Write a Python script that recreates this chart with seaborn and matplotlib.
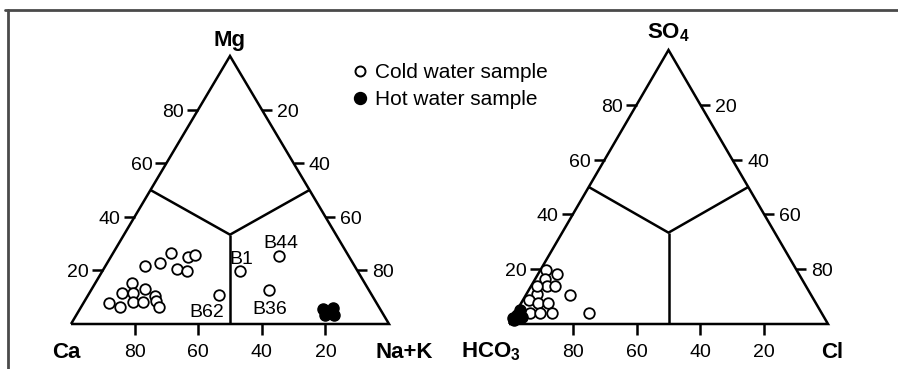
import numpy as np
import pandas as pd
import matplotlib
matplotlib.use("Agg")
import matplotlib.pyplot as plt
import seaborn as sns
from matplotlib.lines import Line2D

# ---------------- data (percent) ----------------
# Cation triangle: Mg (top), Na+K (right), Ca (left)
cold_mg = [8.0, 6.5, 11.4, 15.4, 11.7, 8.1, 8.1, 13.0, 10.5, 8.7, 6.3,
           21.5, 22.9, 26.5, 20.5, 19.9, 25.1, 25.7]
cold_nak = [7.9, 12.1, 10.2, 11.4, 13.7, 15.5, 18.6, 16.8, 21.1, 22.5, 24.4,
            12.6, 16.5, 18.1, 23.0, 26.5, 24.2, 26.3]
named_ids = ["B62", "B1", "B44", "B36"]
named_mg = [10.9, 19.6, 25.5, 12.7]
named_nak = [41.1, 43.3, 52.7, 56.0]
hot_mg = [5.5, 5.8, 3.3, 3.3, 4.4]
hot_nak = [76.5, 79.5, 78.3, 81.1, 78.9]

# Anion triangle: SO4 (top), Cl (right), HCO3 (left)
cold_so4 = [19.6, 18.1, 16.6, 13.8, 13.8, 11.1, 10.5, 8.7, 7.7, 7.7,
            3.9, 3.9, 3.9, 3.9, 13.8]
cold_cl = [1.7, 5.9, 3.0, 4.9, 7.5, 3.3, 13.8, 1.8, 5.3, 8.4,
           4.7, 7.8, 11.5, 23.0, 1.9]
hot_so4 = [2.1, 5.1, 2.6, 3.3, 1.4]
hot_cl = [0.3, 0.9, 2.7, 0.8, 0.9]

tick_values = [20, 40, 60, 80]
legend_labels = ["Cold water sample", "Hot water sample"]

# ---------------- style ----------------
sns.set_theme(style="white")
plt.rcParams["font.family"] = ["Liberation Sans", "DejaVu Sans"]
plt.rcParams["mathtext.fontset"] = "custom"
plt.rcParams["mathtext.rm"] = "Liberation Sans"
plt.rcParams["mathtext.bf"] = "Liberation Sans:bold"
plt.rcParams["text.color"] = "black"

W, H = 898, 369
fig = plt.figure(figsize=(W / 100, H / 100), dpi=100)
fig.patch.set_facecolor("white")
S3 = np.sqrt(3) / 2
FS = 14
FS_CORNER = 16
LW = 1.8

BASE_PX = 324


def tern(top, right):
    top = np.asarray(top, float)
    right = np.asarray(right, float)
    return (right + top / 2) / 100.0, top / 100.0 * S3


def make_ax(x0, x1, apex_px):
    ax = fig.add_axes([x0 / W, (H - BASE_PX) / H, (x1 - x0) / W, (BASE_PX - apex_px) / H])
    ax.set_xlim(0, 1)
    ax.set_ylim(0, S3)
    ax.axis("off")
    pxx = 1.0 / (x1 - x0)              # data units per pixel (x)
    pxy = S3 / (BASE_PX - apex_px)     # data units per pixel (y)
    return ax, pxx, pxy


def draw_frame(ax, pxx, pxy, top_lab, left_lab, right_lab, left_dx, right_dx, top_dy):
    kw = dict(color="black", lw=LW, clip_on=False, solid_capstyle="butt")
    ax.plot([0, 1, 0.5, 0], [0, 0, S3, 0], solid_joinstyle="miter", **kw)
    ax.plot([0.25, 0.5, 0.75], [S3 / 2, S3 / 3, S3 / 2], **kw)
    ax.plot([0.5, 0.5], [S3 / 3, 0], **kw)
    for v in tick_values:
        # bottom (left-corner component)
        xb = (100 - v) / 100.0
        ax.plot([xb, xb], [0, -11 * pxy], **kw)
        ax.text(xb, -33 * pxy, str(v), ha="center", va="baseline", fontsize=FS)
        # left edge (top component)
        xl, yl = v / 200.0, v / 100.0 * S3
        ax.plot([xl, xl - 11 * pxx], [yl, yl], **kw)
        ax.text(xl - 14 * pxx, yl - 7 * pxy, str(v), ha="right", va="baseline", fontsize=FS)
        # right edge (right-corner component)
        top = 100 - v
        xr, yr = 1 - top / 200.0, top / 100.0 * S3
        ax.plot([xr, xr + 10 * pxx], [yr, yr], **kw)
        ax.text(xr + 15 * pxx, yr - 7 * pxy, str(v), ha="left", va="baseline", fontsize=FS)
    ax.text(0.5, S3 + top_dy * pxy, top_lab, ha="center", va="baseline",
            fontsize=FS_CORNER, fontweight="bold")
    ax.text(0 + left_dx * pxx, -33.5 * pxy, left_lab, ha="center", va="baseline",
            fontsize=FS_CORNER, fontweight="bold")
    ax.text(1 + right_dx * pxx, -33.5 * pxy, right_lab, ha="center", va="baseline",
            fontsize=FS_CORNER, fontweight="bold")


def scatter(ax, top, right, filled):
    x, y = tern(top, right)
    df = pd.DataFrame({"x": x, "y": y})
    if filled:
        sns.scatterplot(data=df, x="x", y="y", ax=ax, s=64, color="black",
                        edgecolor="black", linewidth=1.0, clip_on=False, legend=False, zorder=4)
    else:
        sns.scatterplot(data=df, x="x", y="y", ax=ax, s=58, facecolor="white",
                        edgecolor="black", linewidth=1.3, clip_on=False, legend=False, zorder=3)
    ax.set_xlim(0, 1)
    ax.set_ylim(0, S3)
    ax.axis("off")


# ---------------- left: cations ----------------
axL, pxL, pyL = make_ax(71, 389, 56)
draw_frame(axL, pxL, pyL, "Mg", "Ca", "Na+K", -5, 15, 10)
scatter(axL, cold_mg + named_mg, cold_nak + named_nak, False)
scatter(axL, hot_mg, hot_nak, True)
label_off = {"B62": (-12, -22.7), "B1": (1, 7), "B44": (1.5, 7.3), "B36": (0, -23.7)}
for name, m, n in zip(named_ids, named_mg, named_nak):
    x, y = tern(m, n)
    dx, dy = label_off[name]
    axL.text(x + dx * pxL, y + dy * pyL, name, ha="center", va="baseline", fontsize=FS)

# ---------------- right: anions ----------------
axR, pxR, pyR = make_ax(509, 828, 50)
draw_frame(axR, pxR, pyR, r"$\mathbf{SO_4}$", r"$\mathbf{HCO_3}$", "Cl", -18, 4, 12)
scatter(axR, cold_so4, cold_cl, False)
scatter(axR, hot_so4, hot_cl, True)

# ---------------- legend ----------------
handles = [
    Line2D([], [], ls="", marker="o", ms=7.2, mfc="white", mec="black", mew=1.4),
    Line2D([], [], ls="", marker="o", ms=8.6, mfc="black", mec="black"),
]
fig.legend(handles, legend_labels, loc="upper left", bbox_to_anchor=(353 / W, 1 - 63.5 / H),
           frameon=False, fontsize=15, handlelength=0.7, handletextpad=0.35,
           labelspacing=0.38, borderpad=0, borderaxespad=0, labelcolor="black")

# ---------------- outer frame ----------------
fig.add_artist(Line2D([5 / W, 1], [1 - 9.5 / H, 1 - 9.5 / H], color="#4a4a4a", lw=2))
fig.add_artist(Line2D([8 / W, 8 / W], [0, 1 - 9.5 / H], color="#4a4a4a", lw=2))

fig.savefig("out.png", dpi=100, facecolor="white")
